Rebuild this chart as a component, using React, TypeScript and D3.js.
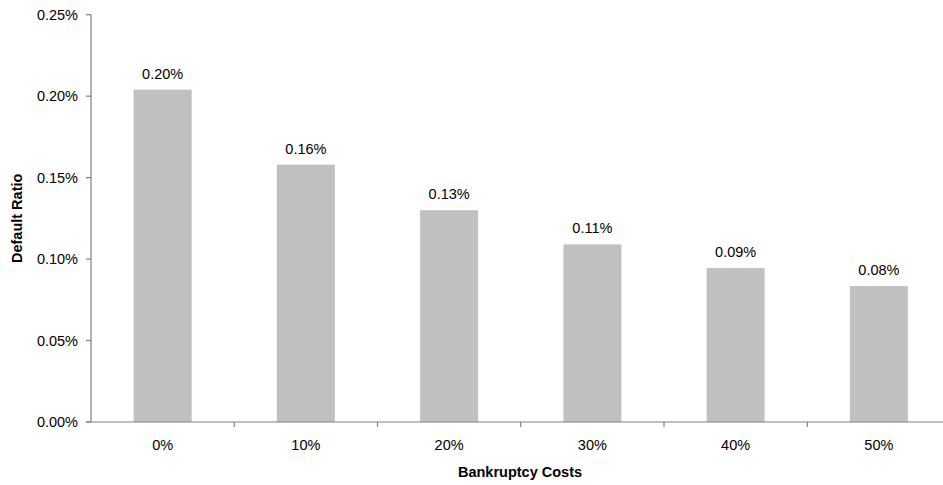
import React from "react";
import * as d3 from "d3";

const categories = ["0%", "10%", "20%", "30%", "40%", "50%"];
const values = [0.00204, 0.00158, 0.0013, 0.00109, 0.000945, 0.000834];
const valueLabels = ["0.20%", "0.16%", "0.13%", "0.11%", "0.09%", "0.08%"];
const yTicks = [0, 0.0005, 0.001, 0.0015, 0.002, 0.0025];

const W = 943;
const H = 485;
const left = 91;
const step = 143.25;
const top = 14.7;
const bottom = 422;

export default function App() {
  const x = d3
    .scaleBand<string>()
    .domain(categories)
    .range([left, left + step * categories.length])
    .paddingInner(0.595)
    .paddingOuter(0.2975);
  const y = d3.scaleLinear().domain([0, 0.0025]).range([bottom, top]);
  const fmt = d3.format(".2%");
  const font = "Liberation Sans, Arial, sans-serif";
  const axisColor = "#808080";
  const fs = 14.5;

  return (
    <div style={{ position: "absolute", left: 0, top: 0 }}>
      <svg width={W} height={H} style={{ display: "block" }} fontFamily={font}>
        <rect width={W} height={H} fill="#fff" />
        {categories.map((c, i) => (
          <rect
            key={c}
            x={x(c)}
            y={y(values[i])}
            width={x.bandwidth()}
            height={bottom - y(values[i])}
            fill="#C0C0C0"
          />
        ))}
        {categories.map((c, i) => (
          <text
            key={"l" + c}
            x={(x(c) as number) + x.bandwidth() / 2}
            y={y(values[i]) - 11}
            textAnchor="middle"
            fontSize={fs}
            fill="#000"
          >
            {valueLabels[i]}
          </text>
        ))}
        {/* y axis */}
        <line x1={left} x2={left} y1={top} y2={bottom} stroke={axisColor} strokeWidth={1.2} />
        {yTicks.map((t) => (
          <g key={t}>
            <line x1={left - 5} x2={left} y1={y(t)} y2={y(t)} stroke={axisColor} strokeWidth={1.2} />
            <text x={left - 13} y={y(t)} dy="0.35em" textAnchor="end" fontSize={fs} fill="#000">
              {fmt(t)}
            </text>
          </g>
        ))}
        {/* x axis */}
        <line x1={left - 5} x2={W} y1={bottom} y2={bottom} stroke={axisColor} strokeWidth={1.2} />
        {categories.slice(1).map((c) => (
          <line
            key={"t" + c}
            x1={x(c) as number - (x.step() * x.paddingInner()) / 2}
            x2={x(c) as number - (x.step() * x.paddingInner()) / 2}
            y1={bottom}
            y2={bottom + 5}
            stroke={axisColor}
            strokeWidth={1.2}
          />
        ))}
        {categories.map((c) => (
          <text
            key={"x" + c}
            x={(x(c) as number) + x.bandwidth() / 2}
            y={445}
            dy="0.35em"
            textAnchor="middle"
            fontSize={fs}
            fill="#000"
          >
            {c}
          </text>
        ))}
        <text x={520} y={472} dy="0.35em" textAnchor="middle" fontSize={fs} fontWeight="bold">
          Bankruptcy Costs
        </text>
        <text
          transform={`translate(17, ${(top + bottom) / 2}) rotate(-90)`}
          dy="0.35em"
          textAnchor="middle"
          fontSize={fs}
          fontWeight="bold"
        >
          Default Ratio
        </text>
      </svg>
    </div>
  );
}
